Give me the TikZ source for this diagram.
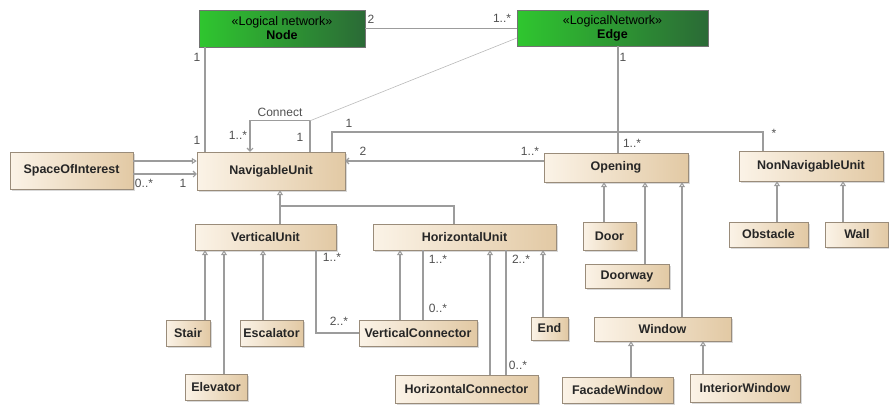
\documentclass[tikz,border=0pt]{standalone}
\usepackage{fontspec}
\setmainfont{Liberation Sans}
\usepackage{tikz}
\usetikzlibrary{arrows.meta,positioning,calc,shadows}
\definecolor{Frame}{HTML}{9A8C7A}
\definecolor{BeigeL}{HTML}{FBF3E7}
\definecolor{BeigeR}{HTML}{E2C9A4}
\definecolor{GreenL}{HTML}{2FC62F}
\definecolor{GreenR}{HTML}{2B6A36}
\definecolor{Wire}{HTML}{9C9C9C}
\definecolor{Label}{HTML}{505050}

\begin{document}
\begin{tikzpicture}[x=1pt,y=-1pt,
    cls/.style={rectangle,draw=Frame,left color=BeigeL,right color=BeigeR,text=black!85,
        font=\fontsize{12.5}{14}\selectfont\bfseries,inner sep=1pt,
        drop shadow={shadow xshift=1.5pt,shadow yshift=-1.5pt,opacity=.3}},
    net/.style={rectangle,draw=black!55,left color=GreenL,right color=GreenR,align=center,
        font=\fontsize{12.5}{14}\selectfont,inner sep=1pt},
    wire/.style={draw=Wire,line width=1.1pt},
    gen/.style={wire,-{Triangle[open,length=5pt,width=6pt]}},
    nav/.style={wire,-{Straight Barb[length=3pt,width=6pt]}},
    mult/.style={font=\fontsize{12}{13}\selectfont,text=Label,inner sep=0pt}
]
\useasboundingbox (0,0) rectangle (889,405);

\node[net,minimum width=166pt,minimum height=37pt] (lnode) at (282,28.5) {«Logical network»\\\textbf{Node}};
\node[net,minimum width=191pt,minimum height=36pt] (edge) at (612.5,28) {«LogicalNetwork»\\\textbf{Edge}};
\node[cls,minimum width=123pt,minimum height=37pt] (soi) at (71.5,170.5) {SpaceOfInterest};
\node[cls,minimum width=148pt,minimum height=38pt] (navu) at (271,171) {NavigableUnit};
\node[cls,minimum width=144pt,minimum height=29pt] (opening) at (616,167.5) {Opening};
\node[cls,minimum width=144pt,minimum height=30pt] (nonnav) at (811,166) {NonNavigableUnit};
\node[cls,minimum width=141pt,minimum height=26pt] (vunit) at (265.5,237) {VerticalUnit};
\node[cls,minimum width=183pt,minimum height=26pt] (hunit) at (464.5,237) {HorizontalUnit};
\node[cls,minimum width=44pt,minimum height=26pt] (stair) at (188,333) {Stair};
\node[cls,minimum width=63pt,minimum height=26pt] (escalator) at (271.5,333) {Escalator};
\node[cls,minimum width=62pt,minimum height=26pt] (elevator) at (216,387) {Elevator};
\node[cls,minimum width=118pt,minimum height=26pt] (vconn) at (418,333) {VerticalConnector};
\node[cls,minimum width=37pt,minimum height=23pt] (endu) at (549.5,328.5) {End};
\node[cls,minimum width=143pt,minimum height=28pt] (hconn) at (466.5,389) {HorizontalConnector};
\node[cls,minimum width=53pt,minimum height=28pt] (door) at (609.5,236) {Door};
\node[cls,minimum width=84pt,minimum height=24pt] (doorway) at (627,276) {Doorway};
\node[cls,minimum width=137pt,minimum height=24pt] (window) at (662.5,329) {Window};
\node[cls,minimum width=111pt,minimum height=26pt] (facade) at (617.5,390) {FacadeWindow};
\node[cls,minimum width=110pt,minimum height=28pt] (interior) at (745,388) {InteriorWindow};
\node[cls,minimum width=79pt,minimum height=25pt] (obstacle) at (768.5,234.5) {Obstacle};
\node[cls,minimum width=63pt,minimum height=25pt] (wall) at (857,234.5) {Wall};

\draw[wire] (lnode.east) -- (edge.west |- lnode.east);
\draw[wire] (lnode.south -| 205,0) -- (navu.north -| 205,0);
\draw[nav] (navu.north -| 310,0) -- ++(0,-31) coordinate (kink) -| (navu.north -| 250,0);
\draw[wire,line width=.6pt,draw=Wire!70] (kink) -- (edge.west |- 0,38);
\draw[wire] (edge.south -| 618,0) -- (618,132) coordinate (hub);
\draw[wire] (navu.north -| 332,0) |- (hub) -| (nonnav.north -| 763,0);
\draw[wire] (hub) -- (opening.north -| hub);
\draw[nav] (opening.west |- 0,161) -- (navu.east |- 0,161);
\draw[gen] (soi.east |- 0,161) -- (navu.west |- 0,161);
\draw[nav] (soi.east |- 0,174) -- (navu.west |- 0,174);

\coordinate (fork) at (280,206);
\draw[gen] (vunit.north -| fork) -- (navu.south -| fork);
\draw[wire] (hunit.north -| 454,0) |- (fork);
\draw[gen] (stair.north -| 205,0) -- (vunit.south -| 205,0);
\draw[gen] (elevator.north -| 224,0) -- (vunit.south -| 224,0);
\draw[gen] (escalator.north -| 263,0) -- (vunit.south -| 263,0);
\draw[wire] (vunit.south -| 316,0) |- (vconn.west);
\draw[gen] (vconn.north -| 400,0) -- (hunit.south -| 400,0);
\draw[wire] (vconn.north -| 423,0) -- (hunit.south -| 423,0);
\draw[gen] (hconn.north -| 490,0) -- (hunit.south -| 490,0);
\draw[wire] (hconn.north -| 506,0) -- (hunit.south -| 506,0);
\draw[gen] (endu.north -| 543,0) -- (hunit.south -| 543,0);

\draw[gen] (door.north -| 604,0) -- (opening.south -| 604,0);
\draw[gen] (doorway.north -| 645,0) -- (opening.south -| 645,0);
\draw[gen] (window.north -| 682,0) -- (opening.south -| 682,0);
\draw[gen] (facade.north -| 631,0) -- (window.south -| 631,0);
\draw[gen] (interior.north -| 703,0) -- (window.south -| 703,0);
\draw[gen] (obstacle.north -| 777,0) -- (nonnav.south -| 777,0);
\draw[gen] (wall.north -| 843,0) -- (nonnav.south -| 843,0);

\node[mult] (m1) at (371,19) {2};
\node[mult] (m2) at (502,18) {1..*};
\node[mult] (m3) at (197,57) {1};
\node[mult] (m4) at (197,140) {1};
\node[mult] (m5) at (280,112) {Connect};
\node[mult] (m6) at (238,135) {1..*};
\node[mult] (m7) at (300,137) {1};
\node[mult] (m8) at (144,183) {0..*};
\node[mult] (m9) at (183,183) {1};
\node[mult] (m10) at (349,123) {1};
\node[mult] (m11) at (363,151) {2};
\node[mult] (m12) at (530,151) {1..*};
\node[mult] (m13) at (623,57) {1};
\node[mult] (m14) at (632,143) {1..*};
\node[mult] (m15) at (774,133) {*};
\node[mult] (m16) at (332,257) {1..*};
\node[mult] (m17) at (339,321) {2..*};
\node[mult] (m18) at (438,259) {1..*};
\node[mult] (m19) at (438,308) {0..*};
\node[mult] (m20) at (521,259) {2..*};
\node[mult] (m21) at (518,365) {0..*};
\end{tikzpicture}
\end{document}
